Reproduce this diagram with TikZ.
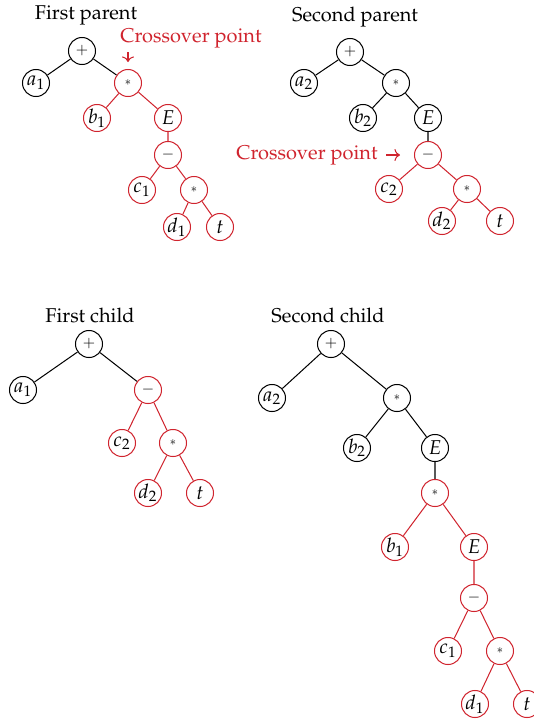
\documentclass[tikz,border=0pt]{standalone}
\usepackage[T1]{fontenc}
\usepackage{mathpazo}
\usetikzlibrary{positioning}
\usetikzlibrary{arrows.meta}
\definecolor{crossred}{RGB}{208,36,46}

\newcommand{\opplus}{$\scriptstyle +$}
\newcommand{\opminus}{$\scriptstyle -$}
\newcommand{\optimes}{$\scriptscriptstyle *$}

\begin{document}
\begin{tikzpicture}
	[x=0.019cm,y=-0.019cm,font=\fontsize{10.8}{13}\selectfont,
	gene/.style={circle,draw=black,line width=0.55pt,minimum size=14.6pt,inner sep=0pt},
	swap/.style={gene,draw=crossred},
	link/.style={draw=black,line width=0.55pt},
	swaplink/.style={draw=crossred,line width=0.55pt},
	label/.style={inner sep=0pt},
	pointer/.style={draw=crossred,line width=0.55pt,-{To[length=3pt,width=6.5pt]}}]

	\useasboundingbox (0,0) rectangle (533,719);

	% First parent
	\draw node at (86,15) [label](p1title){First parent}
		node at (82,51) [gene](p1plus){\opplus}
		node at (36,83) [gene](p1a){$a_1$}
		node at (128,83) [swap](p1mul){\optimes}
		node at (97,118) [swap](p1b){$b_1$}
		node at (168,118) [swap](p1e){$E$}
		node at (168,155) [swap](p1minus){\opminus}
		node at (142,190) [swap](p1c){$c_1$}
		node at (194,190) [swap](p1mulb){\optimes}
		node at (177,227) [swap](p1d){$d_1$}
		node at (220,227) [swap](p1t){$t$};

	\draw[link] (p1plus) --(p1a)
	            (p1plus) --(p1mul);
	\draw[swaplink] (p1mul) --(p1b)
	            (p1mul) --(p1e)
	            (p1e) --(p1minus)
	            (p1minus) --(p1c)
	            (p1minus) --(p1mulb)
	            (p1mulb) --(p1d)
	            (p1mulb) --(p1t);

	% Crossover mark on the first parent
	\draw node at (191,38) [label,text=crossred](p1cross){Crossover point};
	\coordinate (p1from) at (128,52);
	\coordinate (p1to) at (128,62);
	\draw[pointer] (p1from) --(p1to);

	% Second parent
	\draw node at (355,17) [label](p2title){Second parent}
		node at (350,52) [gene](p2plus){\opplus}
		node at (304,83) [gene](p2a){$a_2$}
		node at (396,83) [gene](p2mul){\optimes}
		node at (363,118) [gene](p2b){$b_2$}
		node at (428,118) [gene](p2e){$E$}
		node at (428,155) [swap](p2minus){\opminus}
		node at (389,189) [swap](p2c){$c_2$}
		node at (467,189) [swap](p2mulb){\optimes}
		node at (442,221) [swap](p2d){$d_2$}
		node at (500,221) [swap](p2t){$t$};

	\draw[link] (p2plus) --(p2a)
	            (p2plus) --(p2mul)
	            (p2mul) --(p2b)
	            (p2mul) --(p2e)
	            (p2e) --(p2minus);
	\draw[swaplink] (p2minus) --(p2c)
	            (p2minus) --(p2mulb)
	            (p2mulb) --(p2d)
	            (p2mulb) --(p2t);

	% Crossover mark on the second parent
	\draw node at (307,155) [label,text=crossred](p2cross){Crossover point};
	\coordinate (p2from) at (386,155);
	\coordinate (p2to) at (400,155);
	\draw[pointer] (p2from) --(p2to);

	% First child
	\draw node at (90,315) [label](c1title){First child}
		node at (89,344) [gene](c1plus){\opplus}
		node at (23,390) [gene](c1a){$a_1$}
		node at (148,390) [swap](c1minus){\opminus}
		node at (122,443) [swap](c1c){$c_2$}
		node at (173,443) [swap](c1mul){\optimes}
		node at (148,493) [swap](c1d){$d_2$}
		node at (200,493) [swap](c1t){$t$};

	\draw[link] (c1plus) --(c1a)
	            (c1plus) --(c1minus);
	\draw[swaplink] (c1minus) --(c1c)
	            (c1minus) --(c1mul)
	            (c1mul) --(c1d)
	            (c1mul) --(c1t);

	% Second child
	\draw node at (328,315) [label](c2title){Second child}
		node at (331,344) [gene](c2plus){\opplus}
		node at (272,398) [gene](c2a){$a_2$}
		node at (397,398) [gene](c2mul){\optimes}
		node at (357,448) [gene](c2b){$b_2$}
		node at (435,448) [gene](c2e){$E$}
		node at (435,493) [swap](c2mulb){\optimes}
		node at (395,547) [swap](c2bb){$b_1$}
		node at (474,547) [swap](c2ee){$E$}
		node at (474,598) [swap](c2minus){\opminus}
		node at (448,651) [swap](c2c){$c_1$}
		node at (500,651) [swap](c2mulc){\optimes}
		node at (475,704) [swap](c2d){$d_1$}
		node at (527,704) [swap](c2t){$t$};

	\draw[link] (c2plus) --(c2a)
	            (c2plus) --(c2mul)
	            (c2mul) --(c2b)
	            (c2mul) --(c2e)
	            (c2e) --(c2mulb);
	\draw[swaplink] (c2mulb) --(c2bb)
	            (c2mulb) --(c2ee)
	            (c2ee) --(c2minus)
	            (c2minus) --(c2c)
	            (c2minus) --(c2mulc)
	            (c2mulc) --(c2d)
	            (c2mulc) --(c2t);
\end{tikzpicture}
\end{document}
